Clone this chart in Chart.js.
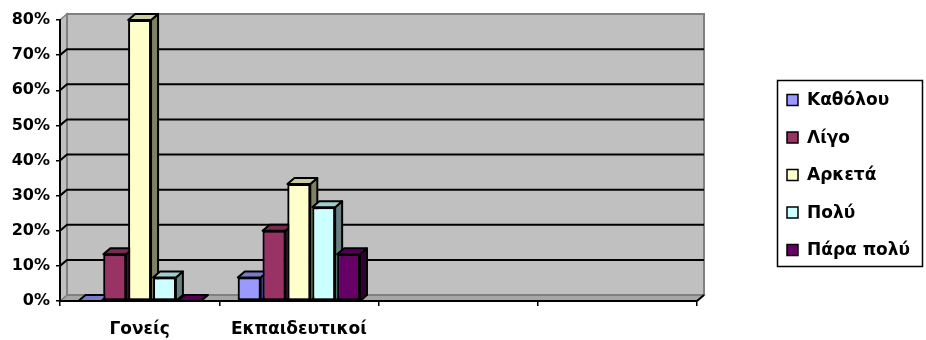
<!DOCTYPE html>
<html>
<head>
<meta charset="utf-8">
<script src="https://cdn.jsdelivr.net/npm/chart.js@4/dist/chart.umd.min.js"></script>
<style>
  html, body { margin: 0; padding: 0; background: #fff; }
</style>
</head>
<body>
<canvas id="chart" width="926" height="340"></canvas>
<script>
const categories = ['Γονείς', 'Εκπαιδευτικοί', '', ''];
const seriesNames = ['Καθόλου', 'Λίγο', 'Αρκετά', 'Πολύ', 'Πάρα πολύ'];
const notAtAll = [0, 6.7, null, null];
const aLittle = [13.3, 20, null, null];
const enough = [80, 33.3, null, null];
const much = [6.7, 26.7, null, null];
const veryMuch = [0, 13.3, null, null];
const seriesColors = ['#9999ff', '#993366', '#ffffcc', '#ccffff', '#660066'];
const yTicks = [0, 10, 20, 30, 40, 50, 60, 70, 80];

const FONT = 'DejaVu Sans';
const DX = 7, DY = -6; // depth of the 3d box

function shade(hex, f) {
  const n = parseInt(hex.slice(1), 16);
  const r = Math.round(((n >> 16) & 255) * f);
  const g = Math.round(((n >> 8) & 255) * f);
  const b = Math.round((n & 255) * f);
  return `rgb(${r},${g},${b})`;
}

function poly(ctx, pts, fill, stroke, lw) {
  ctx.beginPath();
  ctx.moveTo(pts[0][0], pts[0][1]);
  for (let i = 1; i < pts.length; i++) ctx.lineTo(pts[i][0], pts[i][1]);
  ctx.closePath();
  if (fill) { ctx.fillStyle = fill; ctx.fill(); }
  if (stroke) { ctx.strokeStyle = stroke; ctx.lineWidth = lw; ctx.stroke(); }
}

const box3d = {
  id: 'box3d',
  beforeDraw(chart) {
    const { ctx, chartArea: a, scales: { y } } = chart;
    const L = a.left, R = a.right, T = a.top, B = a.bottom;
    ctx.save();
    // floor, side wall, back wall
    poly(ctx, [[L, B], [R, B], [R + DX, B + DY], [L + DX, B + DY]], '#a6a6a6', '#808080', 1.5);
    poly(ctx, [[L, B], [L, T], [L + DX, T + DY], [L + DX, B + DY]], '#c0c0c0', '#808080', 1.5);
    poly(ctx, [[L + DX, T + DY], [R + DX, T + DY], [R + DX, B + DY], [L + DX, B + DY]], '#c0c0c0', '#808080', 2);
    // gridlines on the walls
    ctx.strokeStyle = '#000';
    ctx.lineWidth = 2;
    yTicks.slice(1, -1).forEach(v => {
      const py = y.getPixelForValue(v);
      ctx.beginPath();
      ctx.moveTo(L, py);
      ctx.lineTo(L + DX, py + DY);
      ctx.lineTo(R + DX, py + DY);
      ctx.stroke();
    });
    // right front edge of the floor
    ctx.beginPath();
    ctx.moveTo(R, B);
    ctx.lineTo(R + DX, B + DY);
    ctx.stroke();
    ctx.restore();
  },
  // redraw the bars left to right so each front face covers the
  // side face of the bar before it, then add side and top faces
  afterDatasetsDraw(chart) {
    const { ctx } = chart;
    const base = chart.scales.y.getPixelForValue(0);
    ctx.save();
    ctx.lineJoin = 'round';
    chart.data.datasets.forEach((ds, d) => {
      const col = seriesColors[d];
      chart.getDatasetMeta(d).data.forEach((bar, i) => {
        if (ds.data[i] == null) return;
        bar.draw(ctx);
        const { x, y, width } = bar.getProps(['x', 'y', 'width'], true);
        const l = x - width / 2, r = x + width / 2;
        poly(ctx, [[r, y], [r + DX, y + DY], [r + DX, base + DY], [r, base]], shade(col, 0.5), '#000', 2);
        poly(ctx, [[l, y], [r, y], [r + DX, y + DY], [l + DX, y + DY]], shade(col, 0.8), '#000', 2);
      });
    });
    ctx.restore();
  },
  afterDraw(chart) {
    const { ctx } = chart;
    ctx.save();
    poly(ctx, [[777.5, 80.5], [922.5, 80.5], [922.5, 266.5], [777.5, 266.5]], '#fff', '#000', 1.5);
    ctx.font = `bold 17px "${FONT}"`;
    ctx.textBaseline = 'middle';
    ctx.textAlign = 'left';
    seriesNames.forEach((name, i) => {
      const cy = 100 + i * 37.5;
      poly(ctx, [[787, cy - 5.5], [798, cy - 5.5], [798, cy + 5.5], [787, cy + 5.5]], seriesColors[i], '#000', 1.5);
      ctx.fillStyle = '#000';
      ctx.fillText(name, 807, cy + 1);
    });
    ctx.restore();
  }
};

const seriesData = [notAtAll, aLittle, enough, much, veryMuch];

new Chart(document.getElementById('chart'), {
  type: 'bar',
  data: {
    labels: categories,
    datasets: seriesNames.map((name, i) => ({
      label: name,
      data: seriesData[i],
      backgroundColor: seriesColors[i],
      borderColor: '#000',
      borderWidth: 2,
      borderSkipped: false,
      clip: false
    }))
  },
  options: {
    responsive: false,
    animation: false,
    categoryPercentage: 0.78,
    barPercentage: 0.92,
    layout: { padding: { top: 20, right: 229, bottom: 0, left: 0 } },
    plugins: { legend: { display: false }, tooltip: { enabled: false } },
    scales: {
      x: {
        offset: true,
        grid: { offset: true, drawOnChartArea: false, tickLength: 5, color: '#000', lineWidth: 1.5 },
        border: { color: '#000', width: 2 },
        ticks: { color: '#000', font: { family: FONT, size: 17, weight: 'bold' }, padding: 13 },
        afterFit: s => { s.height = 39; }
      },
      y: {
        min: 0,
        max: 80,
        afterBuildTicks: s => { s.ticks = yTicks.map(v => ({ value: v })); },
        grid: { drawOnChartArea: false, tickLength: 4, color: '#000', lineWidth: 1.5 },
        border: { color: '#000', width: 2 },
        ticks: { color: '#000', font: { family: FONT, size: 16, weight: 'bold' }, padding: 6, callback: v => v + '%' },
        afterFit: s => { s.width = 60; }
      }
    }
  },
  plugins: [box3d]
});
</script>
</body>
</html>
